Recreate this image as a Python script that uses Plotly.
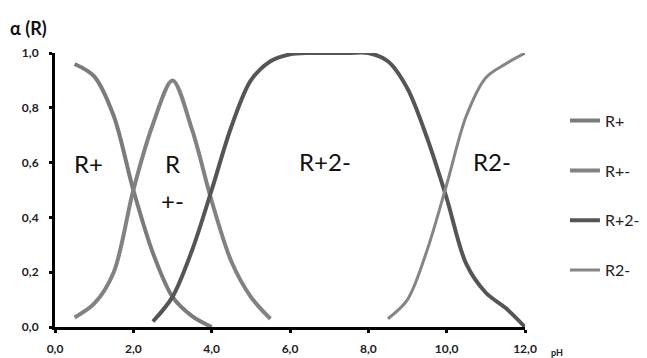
import plotly.graph_objects as go

ph_rp = [0.5, 1.0, 1.5, 2.0, 2.5, 3.0, 3.5, 4.0]
a_rp = [0.96, 0.915, 0.77, 0.5, 0.27, 0.11, 0.04, 0.0]

ph_rpm = [0.5, 1.0, 1.5, 2.0, 2.5, 3.0, 3.5, 4.0, 4.5, 5.0, 5.5]
a_rpm = [0.035, 0.085, 0.2, 0.5, 0.74, 0.9, 0.72, 0.46, 0.24, 0.11, 0.03]

ph_rp2m = [2.5, 3.0, 3.5, 4.0, 4.5, 5.0, 5.5, 6.0, 6.5, 7.0, 7.5, 8.0, 8.5, 9.0, 9.5, 10.0, 10.5, 11.0, 11.5, 12.0]
a_rp2m = [0.02, 0.11, 0.28, 0.5, 0.73, 0.9, 0.97, 0.995, 1.0, 1.0, 1.0, 1.0, 0.97, 0.87, 0.69, 0.47, 0.23, 0.125, 0.07, 0.0]

ph_r2m = [8.5, 9.0, 9.5, 10.0, 10.5, 11.0, 11.5, 12.0]
a_r2m = [0.03, 0.1, 0.28, 0.52, 0.77, 0.91, 0.96, 1.0]

series_names = ["R+", "R+-", "R+2-", "R2-"]
x_ticks = [0, 2, 4, 6, 8, 10, 12]
y_ticks = [0, 0.2, 0.4, 0.6, 0.8, 1.0]

region_labels = ["R+", "R", "+-", "R+2-", "R2-"]
region_x = [0.85, 3.0, 3.0, 6.9, 11.15]
region_y = [0.595, 0.595, 0.46, 0.605, 0.605]

FONT = "Lato, 'Open Sans', sans-serif"

fig = go.Figure()
styles = [("#7b7b7b", 4), ("#828282", 4), ("#555555", 4), ("#858585", 3)]
data = [(ph_rp, a_rp), (ph_rpm, a_rpm), (ph_rp2m, a_rp2m), (ph_r2m, a_r2m)]
for i, ((xs, ys), name, (col, w)) in enumerate(zip(data, series_names, styles)):
    fig.add_trace(go.Scatter(
        x=xs, y=ys, name=name, mode="lines",
        line=dict(color=col, width=w, shape="spline", smoothing=0.9),
        cliponaxis=False, legendgroup="g%d" % i,
    ))

for t, xx, yy in zip(region_labels, region_x, region_y):
    fig.add_annotation(x=xx, y=yy, text=t, showarrow=False,
                       font=dict(family=FONT, size=24, color="#111111"))

fig.add_annotation(xref="paper", yref="paper", x=-0.1, y=1.0, yshift=25,
                   text="<b>α (R)</b>", showarrow=False, xanchor="left", yanchor="middle",
                   font=dict(family=FONT, size=18, color="#111111"))
fig.add_annotation(xref="paper", yref="paper", x=1.05, y=0, yshift=-25,
                   text="<b>pH</b>", showarrow=False, xanchor="left", yanchor="middle",
                   font=dict(family=FONT, size=9, color="#222222"))

fig.update_layout(
    width=647, height=358,
    margin=dict(l=55, r=122, t=53, b=31, autoexpand=False),
    paper_bgcolor="white", plot_bgcolor="white",
    separators=",.",
    showlegend=True,
    legend=dict(x=1.085, y=0.815, xanchor="left", yanchor="top",
                font=dict(family=FONT, size=16, color="#222222"),
                tracegroupgap=26, itemwidth=30, bgcolor="rgba(0,0,0,0)",
                maxheight=300),
    xaxis=dict(range=[0, 12], tickvals=x_ticks, tickformat=".1f",
               showgrid=False, zeroline=False, showline=True, automargin=False,
               linecolor="black", linewidth=3, ticks="outside",
               ticklen=3, tickwidth=3, tickcolor="black", ticklabelstandoff=6,
               tickfont=dict(family=FONT, size=12, color="#222222", weight="bold")),
    yaxis=dict(range=[0, 1], tickvals=y_ticks, tickformat=".1f",
               showgrid=False, zeroline=False, showline=True, automargin=False,
               linecolor="black", linewidth=3, ticks="outside",
               ticklen=3, tickwidth=3, tickcolor="black", ticklabelstandoff=8,
               tickfont=dict(family=FONT, size=12, color="#222222", weight="bold")),
)

fig.write_html("out.html", config={"displayModeBar": False},
               post_script="document.body.style.margin='0';")
